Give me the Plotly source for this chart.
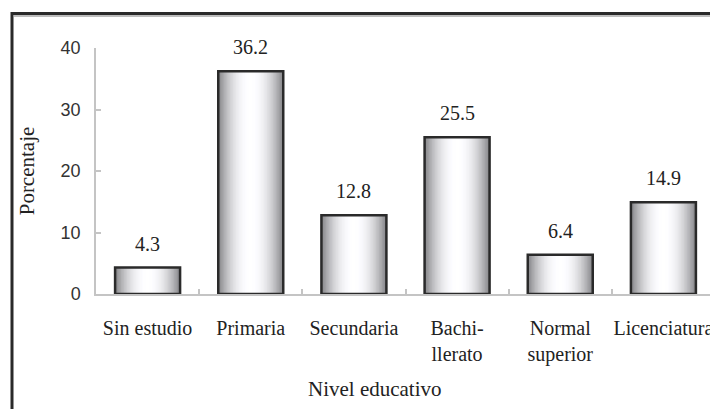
import plotly.graph_objects as go

categories = ["Sin estudio", "Primaria", "Secundaria", "Bachi-<br>llerato", "Normal<br>superior", "Licenciatura"]
values = [4.3, 36.2, 12.8, 25.5, 6.4, 14.9]
value_labels = ["4.3", "36.2", "12.8", "25.5", "6.4", "14.9"]
y_ticks = [0, 10, 20, 30, 40]

W = 0.63
N = 22
SERIF = "Liberation Serif"
SANS = "Liberation Sans"

# page body adds an 8px offset; the figure is sized so that the visible window matches
FIG_W, FIG_H = 710, 401
ML, MR, MT, MB = 88, 3, 40, 115
OFF = 8

fig = go.Figure()

# layered bars to imitate the cylindrical gradient
for i in range(N):
    t = i / N
    g = int(round(255 - 120 * (1 - t) ** 2.2))
    fig.add_trace(go.Bar(
        x=categories, y=values, width=W * (1 - t),
        marker=dict(color=f"rgb({g},{g},{min(255, g + 3)})", line=dict(width=0)),
        hoverinfo="skip", showlegend=False,
    ))

# outline
fig.add_trace(go.Bar(
    x=categories, y=values, width=W,
    marker=dict(color="rgba(0,0,0,0)", line=dict(color="#2a2a2a", width=2.5)),
    showlegend=False,
))

for c, v, t in zip(categories, values, value_labels):
    fig.add_annotation(x=c, y=v, text=t, showarrow=False, yanchor="bottom", yshift=11,
                       font=dict(family=SERIF, size=20, color="#222"))

def px_x(px):
    return (px - OFF - ML) / (FIG_W - ML - MR)

def px_y(py):
    return (FIG_H - MB - (py - OFF)) / (FIG_H - MT - MB)

fig.add_annotation(text="Nivel educativo", xref="paper", yref="paper", x=px_x(375), y=px_y(389),
                   xanchor="center", yanchor="middle", showarrow=False,
                   font=dict(family=SERIF, size=21, color="#222"))

fig.update_layout(
    width=FIG_W, height=FIG_H,
    margin=dict(l=ML, r=MR, t=MT, b=MB, autoexpand=False),
    barmode="overlay",
    paper_bgcolor="white", plot_bgcolor="white",
    showlegend=False,
    font=dict(family=SERIF),
    xaxis=dict(
        type="category", range=[-0.5, 5.5], automargin=False, tickangle=0,
        showline=True, linecolor="#c4c4c4", linewidth=1.5,
        ticks="inside", tickson="boundaries", ticklen=5, tickcolor="#c4c4c4", tickwidth=1.5,
        tickfont=dict(family=SERIF, size=20, color="#222"),
        ticklabelstandoff=15,
        showgrid=False, zeroline=False,
    ),
    yaxis=dict(
        range=[0, 40], tickvals=y_ticks, automargin=False,
        showline=True, linecolor="#c4c4c4", linewidth=1.5,
        ticks="inside", ticklen=5, tickcolor="#c4c4c4", tickwidth=1.5,
        tickfont=dict(family=SANS, size=18, color="#333"),
        ticklabelstandoff=10,
        showgrid=False, zeroline=False,
        title=dict(text="Porcentaje", font=dict(family=SERIF, size=21, color="#222"), standoff=20),
    ),
)

# frame lines (left and top edges of the cropped figure box)
fig.add_shape(type="line", xref="paper", yref="paper", x0=px_x(12), x1=px_x(730), y0=px_y(13.5), y1=px_y(13.5),
              line=dict(color="#2a2a2a", width=3), layer="above")
fig.add_shape(type="line", xref="paper", yref="paper", x0=px_x(14), x1=px_x(730), y0=px_y(16), y1=px_y(16),
              line=dict(color="#bdbdbd", width=2), layer="above")
fig.add_shape(type="line", xref="paper", yref="paper", x0=px_x(12), x1=px_x(12), y0=px_y(12), y1=px_y(420),
              line=dict(color="#2a2a2a", width=3), layer="above")

fig.write_html("out.html")
